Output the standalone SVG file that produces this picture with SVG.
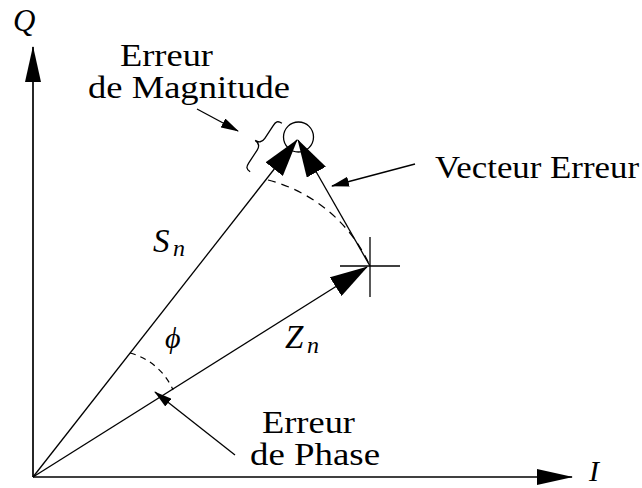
<svg xmlns="http://www.w3.org/2000/svg" width="642" height="488" viewBox="0 0 642 488">
<style>
.ln{fill:none;stroke:#000;stroke-width:1.3}
.ax{fill:none;stroke:#000;stroke-width:1.7}
.dash{fill:none;stroke:#000;stroke-width:1.2;stroke-dasharray:8 6}
.dash2{fill:none;stroke:#000;stroke-width:1.2;stroke-dasharray:6 5}
.t{font-family:"Liberation Serif","Times New Roman",serif;font-size:31px;fill:#000}
.it{font-family:"Liberation Serif","Times New Roman",serif;font-style:italic;fill:#000}
</style>
<defs>
<marker id="big" viewBox="0 0 38 22" refX="37" refY="11" markerWidth="38" markerHeight="22" markerUnits="userSpaceOnUse" orient="auto"><path d="M0,0 L38,11 L0,22 Z" fill="#000"/></marker>
<marker id="axis" viewBox="0 0 36 16" refX="35" refY="8" markerWidth="36" markerHeight="16" markerUnits="userSpaceOnUse" orient="auto"><path d="M0,0 L36,8 L0,16 Z" fill="#000"/></marker>
<marker id="small" viewBox="0 0 18 10" refX="17" refY="5" markerWidth="18" markerHeight="10" markerUnits="userSpaceOnUse" orient="auto"><path d="M0,0 L18,5 L0,10 Z" fill="#000"/></marker>
</defs>
<g id="connectors">
<line class="ax" x1="33" y1="477" x2="33" y2="47" marker-end="url(#axis)"/>
<line class="ax" x1="33" y1="477" x2="572" y2="477" marker-end="url(#axis)"/>
<line class="ln" x1="33" y1="477" x2="297" y2="140" marker-end="url(#big)"/>
<line class="ln" x1="33" y1="477" x2="367" y2="267" marker-end="url(#big)"/>
<line class="ln" x1="370" y1="266" x2="298" y2="140" marker-end="url(#big)"/>
<path class="dash" d="M268,180 A154,154 0 0 1 370,266"/>
<path class="dash2" d="M130,353 A65,65 0 0 1 173,390"/>
<line class="ln" x1="197" y1="109" x2="238" y2="131" marker-end="url(#small)"/>
<line class="ln" x1="415" y1="164" x2="332" y2="186" marker-end="url(#small)"/>
<line class="ln" x1="235" y1="455" x2="155" y2="392" marker-end="url(#small)"/>
</g>
<g id="target-circle"><circle class="ln" cx="298.5" cy="137" r="15"/></g>
<g id="crosshair"><line class="ln" x1="340" y1="266" x2="400" y2="266"/><line class="ln" x1="370" y1="237" x2="370" y2="297"/></g>
<g id="brace"><path class="ln" transform="translate(261,144.2) rotate(33.2)" d="M6,-29 C1,-29 0,-27 0,-22 L0,-7 C0,-2 -3,0 -7,0 C-3,0 0,2 0,7 L0,22 C0,27 1,29 6,29"/></g>
<g id="label-Q"><text class="it" x="13" y="31" font-size="31">Q</text></g>
<g id="label-I"><text class="it" x="589" y="481" font-size="30">I</text></g>
<g id="label-Sn"><text class="it" x="153" y="252" font-size="33">S</text><text class="it" x="173" y="256" font-size="24">n</text></g>
<g id="label-Zn"><text class="it" x="285" y="348" font-size="33">Z</text><text class="it" x="307" y="353" font-size="24">n</text></g>
<g id="label-phi"><text class="it" x="165" y="348" font-size="30">ϕ</text></g>
<g id="label-magnitude"><text class="t" x="120" y="66" font-size="29" textLength="93" lengthAdjust="spacingAndGlyphs">Erreur</text><text class="t" x="88" y="98" font-size="29" textLength="202" lengthAdjust="spacingAndGlyphs">de Magnitude</text></g>
<g id="label-vecteur"><text class="t" x="435" y="178" textLength="204" lengthAdjust="spacingAndGlyphs">Vecteur Erreur</text></g>
<g id="label-phase"><text class="t" x="262" y="433" textLength="93" lengthAdjust="spacingAndGlyphs">Erreur</text><text class="t" x="250" y="465" textLength="130" lengthAdjust="spacingAndGlyphs">de Phase</text></g>
</svg>
